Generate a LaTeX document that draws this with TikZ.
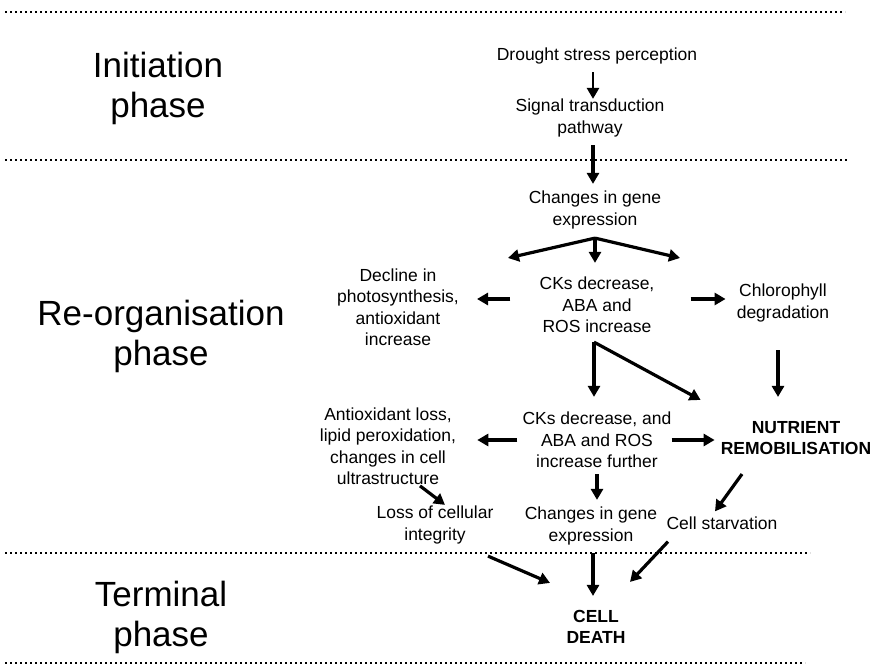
\documentclass[tikz,border=0pt]{standalone}
\usepackage{fontspec}
\setmainfont{Liberation Sans}
\usetikzlibrary{arrows.meta,positioning,calc}

\begin{document}
\begin{tikzpicture}[x=1pt,y=-1pt]
	% styles
	\tikzset{
		box/.style={align=center, inner sep=0pt, font=\fontsize{17.5}{21.5}\selectfont},
		bold box/.style={align=center, inner sep=0pt, font=\fontsize{17.5}{21.5}\selectfont\bfseries},
		phase/.style={align=center, inner sep=0pt, font=\fontsize{35}{40}\selectfont},
		arr/.style={line width=3.2pt, -{Triangle[length=11pt,width=12pt]}},
		sep line/.style={line width=2.5pt, dash pattern=on 2.4pt off 2.6pt}
	}
	\useasboundingbox (0,0) rectangle (876,668);
	
	% dotted separators
	\foreach \y/\xe in {12/845, 160/848, 553/810, 663/805} {
		\draw[sep line] (5,\y) -- (\xe,\y);
	}
	
	% phase names
	\node[phase] (initiation) at (158,88) {Initiation\\phase};
	\node[phase] (reorg) at (161,336) {Re-organisation\\phase};
	\node[phase] (terminal) at (161,617) {Terminal\\phase};
	
	% initiation phase
	\node[box] (drought) at (597,56) {Drought stress perception};
	\node[box] (signal) at (590,118) {Signal transduction\\pathway};
	
	% re-organisation phase
	\node[box] (genes) at (595,210) {Changes in gene\\expression};
	\node[box] (decline) at (398,307) {Decline in\\photosynthesis,\\antioxidant\\increase};
	\node[box] (cks) at (597,305) {CKs decrease,\\ABA and\\ROS increase};
	\node[box] (chloro) at (783,303) {Chlorophyll\\degradation};
	\node[box] (antiox) at (388,446) {Antioxidant loss,\\lipid peroxidation,\\changes in cell\\ultrastructure};
	\node[box] (cksmore) at (597,440) {CKs decrease, and\\ABA and ROS\\increase further};
	\node[bold box] (nutrient) at (796,438) {NUTRIENT\\REMOBILISATION};
	\node[box] (loss) at (435,525) {Loss of cellular\\integrity};
	\node[box] (genesmore) at (591,526) {Changes in gene\\expression};
	\node[box] (starve) at (722,523) {Cell starvation};
	
	% terminal phase
	\node[bold box] (death) at (596,627) {CELL\\DEATH};
	
	% free ends and branch points
	\coordinate (fork) at ([yshift=-9pt]genes.south);
	\coordinate (forkleft) at (508,258);
	\coordinate (forkright) at (680,258);
	\coordinate (split) at ([xshift=-3pt,yshift=-9pt]cks.south);
	
	% arrows
	\draw[arr, line width=2.6pt, shorten <=8pt] ([xshift=-4pt]drought.south) -- ([xshift=-4pt]drought.south |- signal.north);
	\draw[arr, shorten <=8pt, shorten >=7pt] ([xshift=3pt]signal.south) -- ([xshift=3pt]signal.south |- genes.north);
	\draw[arr] (fork) -- (forkleft);
	\draw[arr] (fork) -- (forkright);
	\draw[arr, shorten >=14pt] (fork) -- (fork |- cks.north);
	\draw[arr, shorten <=29pt, shorten >=18pt] ([yshift=6pt]cks.west) -- ([yshift=6pt]cks.west -| decline.east);
	\draw[arr, shorten <=36pt, shorten >=11pt] ([yshift=6pt]cks.east) -- ([yshift=6pt]cks.east -| chloro.west);
	\draw[arr, shorten >=15pt] (split) -- (split |- cksmore.north);
	\draw[arr] (split) -- ([xshift=-20pt,yshift=21pt]nutrient.north west);
	\draw[arr, shorten <=28pt, shorten >=24pt] ([xshift=-5pt]chloro.south) -- ([xshift=-5pt]chloro.south |- nutrient.north);
	\draw[arr, shorten <=5pt, shorten >=21pt] (cksmore.west) -- (cksmore.west -| antiox.east);
	\draw[arr, shorten >=6pt] (cksmore.east) -- (cksmore.east -| nutrient.west);
	\draw[arr] ([xshift=32pt,yshift=-1pt]antiox.south) -- ([xshift=10pt,yshift=1pt]loss.north);
	\draw[arr, shorten <=6pt, shorten >=7pt] (cksmore.south) -- (cksmore.south |- genesmore.north);
	\draw[arr] ([xshift=-54pt,yshift=-19pt]nutrient.south) -- ([xshift=-7pt,yshift=5pt]starve.north);
	\draw[arr] ([xshift=53pt,yshift=-12pt]loss.south) -- ([xshift=-46pt,yshift=27pt]death.north);
	\draw[arr, shorten <=8pt] ([xshift=2pt]genesmore.south) -- ([xshift=-3pt,yshift=14pt]death.north);
	\draw[arr] ([xshift=-54pt,yshift=-12pt]starve.south) -- ([xshift=34pt,yshift=28pt]death.north);
\end{tikzpicture}
\end{document}
